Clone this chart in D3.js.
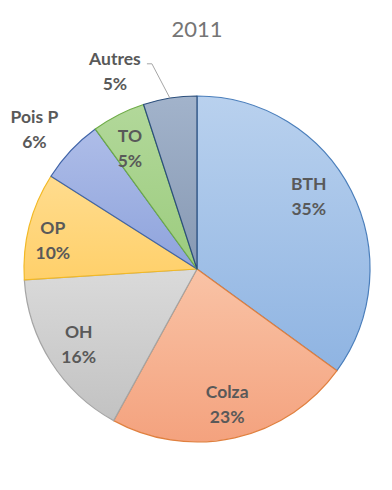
<!DOCTYPE html>
<html><head><meta charset="utf-8">
<script src="https://cdnjs.cloudflare.com/ajax/libs/d3/7.8.5/d3.min.js"></script>
<style>body{margin:0;background:#fff}svg{display:block}</style>
</head><body>
<script>
const title = "2011";
const categories = ["BTH","Colza","OH","OP","Pois P","TO","Autres"];
const values = [35,23,16,10,6,5,5];
const topColors = ["#b9d1ee","#f9c3a6","#dadada","#ffdc8e","#aebde8","#b2d89a","#a2b3cb"];
const bottomColors = ["#8fb4e2","#f4a27e","#c2c2c2","#ffd06a","#8ea3dc","#9ccc7e","#8799b3"];
const strokeColors = ["#4a7ebb","#e0803f","#a5a5a5","#f2b926","#4064a8","#6fac48","#2c4f7c"];

const W=392,H=490,cx=197,cy=269,R=173;
const svg=d3.select("body").append("svg").attr("width",W).attr("height",H);
const defs=svg.append("defs");
categories.forEach((c,i)=>{
  const g=defs.append("linearGradient").attr("id","g"+i).attr("x1",0).attr("y1",0).attr("x2",0).attr("y2",1);
  g.append("stop").attr("offset","0%").attr("stop-color",topColors[i]);
  g.append("stop").attr("offset","100%").attr("stop-color",bottomColors[i]);
});
svg.append("text").attr("x",cx).attr("y",37).attr("text-anchor","middle")
  .attr("font-family","Lato, 'Open Sans', sans-serif").attr("font-size",22).attr("fill","#757575").text(title);

const data=categories.map((c,i)=>({name:c,value:values[i],i}));
const pie=d3.pie().sort(null).value(d=>d.value);
const arcs=pie(data);
const arc=d3.arc().innerRadius(0).outerRadius(R);
const g=svg.append("g").attr("transform",`translate(${cx},${cy})`);
g.selectAll("path").data(arcs).join("path").attr("d",arc)
  .attr("fill",d=>`url(#g${d.data.i})`).attr("stroke",d=>strokeColors[d.data.i]).attr("stroke-width",1.2)
  .attr("stroke-linejoin","round");

const total=d3.sum(values);
const place={ "BTH":{r:0.77,da:-6}, "Colza":{r:0.8,da:0},"OH":{r:0.81,da:0},"OP":{r:0.85,da:-3},
  "Pois P":{r:1.24,da:-2.5},"TO":{r:0.8,da:-2},"Autres":{r:1.24,da:-13.5,leader:true}};
const lab=g.append("g").attr("font-family","Lato, 'Open Sans', sans-serif").attr("font-weight","bold")
  .attr("font-size",17.5).attr("fill","#595959").attr("text-anchor","middle");
arcs.forEach(d=>{
  const p=place[d.data.name];
  const a=(d.startAngle+d.endAngle)/2+p.da*Math.PI/180;
  const x=Math.sin(a)*R*p.r, y=-Math.cos(a)*R*p.r;
  const t=lab.append("text").attr("x",x).attr("y",y);
  t.append("tspan").attr("x",x).attr("y",y-6).text(d.data.name);
  t.append("tspan").attr("x",x).attr("y",y+19).text(Math.round(d.data.value/total*100)+"%");
  if(p.leader){
    const ma=(d.startAngle+d.endAngle)/2;
    const ex=Math.sin(ma)*R, ey=-Math.cos(ma)*R;
    const sx=x+32, sy=y-7;
    g.append("path").attr("d",`M${sx},${sy}H${sx+5}L${ex},${ey}`).attr("fill","none")
      .attr("stroke","#a6a6a6").attr("stroke-width",1);
  }
});
</script>
</body></html>
